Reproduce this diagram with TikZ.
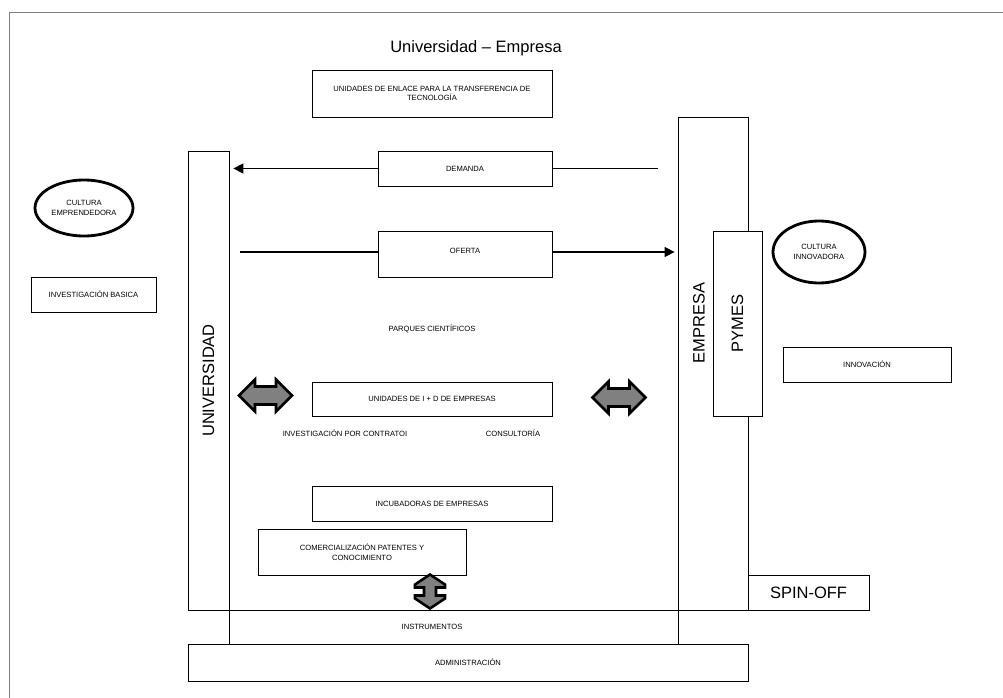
\documentclass[tikz,border=0pt]{standalone}
\usepackage{fontspec}
\setmainfont{Liberation Sans}
\usetikzlibrary{arrows.meta,shapes.geometric}

\begin{document}
\begin{tikzpicture}[x=1pt,y=-1pt,
        caja/.style={draw,line width=0.8pt,inner sep=0pt,align=center,
            font=\fontsize{7.6}{9.5}\selectfont},
        barra/.style={caja,font=\fontsize{16.5}{18}\selectfont},
        texto/.style={inner sep=0pt,align=center,font=\fontsize{7.6}{9.5}\selectfont},
        grande/.style={inner sep=0pt,font=\fontsize{16.5}{18}\selectfont},
        cultura/.style={ellipse,draw,line width=2.8pt,inner sep=0pt,align=center,
            font=\fontsize{7.6}{9.5}\selectfont},
        flecha/.style={line width=1.4pt,-{Triangle[length=10pt,width=10pt]}},
        linea/.style={line width=1.4pt},
        doble/.style={draw,line width=2.6pt,fill=gray},
        dobleh/.pic={\path[doble] (-26.5,0) -- (-10.5,-16) -- (-10.5,-9) -- (10.5,-9)
            -- (10.5,-16) -- (26.5,0) -- (10.5,16) -- (10.5,9) -- (-10.5,9)
            -- (-10.5,16) -- cycle;},
        doblev/.pic={\path[doble] (0,-17) -- (15,-7) -- (15,-4) -- (6,-4) -- (6,4)
            -- (15,4) -- (15,7) -- (0,17) -- (-15,7) -- (-15,4) -- (-6,4)
            -- (-6,-4) -- (-15,-4) -- (-15,-7) -- cycle;}]
    \useasboundingbox (0,0) rectangle (1003,698);
    \draw[gray,line width=1pt]
        (9,698) -- (9,13) -- (1003,13);

    % titulo
    \node[grande] (titulo) at (476,48) {Universidad -- Empresa};

    % columnas
    \node[barra,minimum width=41,minimum height=459] (univ) at (208.5,380.5)
        {\rotatebox{90}{UNIVERSIDAD}};
    \node[barra,minimum width=70,minimum height=493] (empresa) at (713,363.5) {};
    \node[grande,rotate=90] (empresatxt) at (699,323) {EMPRESA};
    \node[barra,fill=white,minimum width=49,minimum height=185] (pymes) at (737.5,323.5)
        {\rotatebox{90}{PYMES}};
    \node[barra,minimum width=121,minimum height=35] (spinoff) at (808.5,592.5) {SPIN-OFF};
    \node[caja,minimum width=449,minimum height=34] (instr) at (453.5,627) {};
    \node[texto] (instrtxt) at (432,627) {INSTRUMENTOS};
    \node[caja,minimum width=560,minimum height=37] (admin) at (468,662.5) {ADMINISTRACIÓN};

    % cajas centrales
    \node[caja,minimum width=240,minimum height=47] (enlace) at (432,93.5)
        {UNIDADES DE ENLACE PARA LA TRANSFERENCIA DE\\TECNOLOGÍA};
    \node[caja,minimum width=174,minimum height=35] (demanda) at (465,168.5) {DEMANDA};
    \node[caja,minimum width=174,minimum height=46] (oferta) at (465,254)
        {\raisebox{6pt}{OFERTA}};
    \node[texto] (parques) at (432,329) {PARQUES CIENTÍFICOS};
    \node[caja,minimum width=240,minimum height=34] (imasd) at (432,399)
        {UNIDADES DE I + D DE EMPRESAS};
    \node[texto] (contrato) at (345,433) {INVESTIGACIÓN POR CONTRATOI};
    \node[texto] (consult) at (513,433) {CONSULTORÍA};
    \node[caja,minimum width=240,minimum height=35] (incub) at (432,503.5)
        {INCUBADORAS DE EMPRESAS};
    \node[caja,minimum width=208,minimum height=46] (comerc) at (362,552)
        {COMERCIALIZACIÓN PATENTES Y\\CONOCIMIENTO};

    % laterales
    \node[cultura,minimum width=98,minimum height=56] (emprend) at (84,208)
        {CULTURA\\EMPRENDEDORA};
    \node[caja,minimum width=125,minimum height=35] (invbas) at (93.5,294.5)
        {INVESTIGACIÓN BASICA};
    \node[cultura,minimum width=92,minimum height=62] (innovad) at (819,252)
        {CULTURA\\INNOVADORA};
    \node[caja,minimum width=168,minimum height=35] (innov) at (867,364.5) {INNOVACIÓN};

    % flechas dobles
    \pic (dobleizq) at (265.5,395.5) {dobleh};
    \pic (dobleder) at (619,397.5) {dobleh};
    \pic (doblebaj) at (430,591.5) {doblev};

    % demanda y oferta
    \coordinate (dmdfin) at (658,168.5);
    \coordinate (ofrini) at (240,252);
    \draw[linea]
        (dmdfin) -- (demanda.east);
    \draw[flecha,shorten >=4pt]
        (demanda.west) -- (univ.east |- demanda.west);
    \draw[linea]
        (ofrini) -- (oferta.west |- ofrini);
    \draw[flecha,shorten >=3pt]
        (oferta.east |- ofrini) -- (empresa.west |- ofrini);
\end{tikzpicture}
\end{document}
